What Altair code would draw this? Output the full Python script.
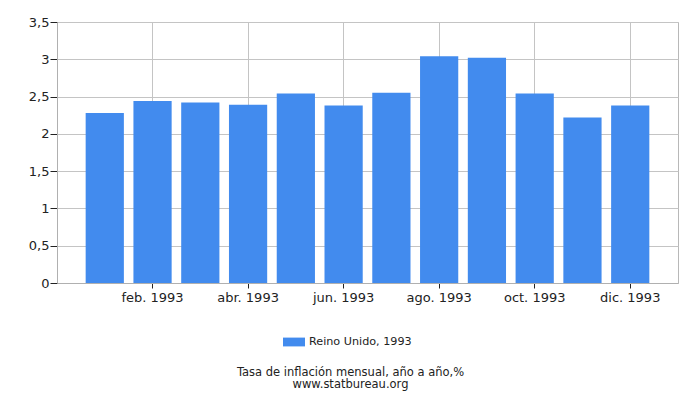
import altair as alt
import pandas as pd

months = ["ene. 1993", "feb. 1993", "mar. 1993", "abr. 1993", "may. 1993", "jun. 1993",
          "jul. 1993", "ago. 1993", "sep. 1993", "oct. 1993", "nov. 1993", "dic. 1993"]
values = [2.28, 2.44, 2.42, 2.39, 2.54, 2.38, 2.55, 3.04, 3.02, 2.54, 2.22, 2.38]
series = "Reino Unido, 1993"
x_ticks = ["feb. 1993", "abr. 1993", "jun. 1993", "ago. 1993", "oct. 1993", "dic. 1993"]
y_ticks = [0, 0.5, 1, 1.5, 2, 2.5, 3, 3.5]

df = pd.DataFrame({"month": months, "value": values, "series": [series] * len(months)})

FONT = "DejaVu Sans"

bars = alt.Chart(df).mark_bar(color="#428bee").encode(
    x=alt.X("month:N", sort=months,
            scale=alt.Scale(paddingInner=0.2, paddingOuter=0.6),
            axis=alt.Axis(values=x_ticks, title=None, labelAngle=0, grid=True,
                          gridColor="#c4c4c4", domainColor="#b0b0b0", tickColor="#222",
                          tickSize=5, labelFont=FONT, labelFontSize=13, labelColor="#222",
                          labelPadding=3)),
    y=alt.Y("value:Q", scale=alt.Scale(domain=[0, 3.5], nice=False),
            axis=alt.Axis(values=y_ticks, title=None, grid=True, gridColor="#c4c4c4",
                          domainColor="#b0b0b0", tickColor="#222", tickSize=7,
                          labelPadding=1, labelFont=FONT, labelFontSize=13, labelColor="#222",
                          labelExpr="replace(toString(datum.value), '.', ',')")),
    color=alt.Color("series:N", scale=alt.Scale(range=["#428bee"]),
                    legend=alt.Legend(title=None, orient="none", legendX=226, legendY=309,
                                      symbolType="M-1,-0.4L1,-0.4L1,0.4L-1,0.4Z",
                                      symbolSize=484, symbolStrokeWidth=0,
                                      labelFont=FONT, labelFontSize=11.2, labelColor="#222")),
)

chart = bars.properties(
    width=621, height=261,
    autosize=alt.AutoSizeParams(type="none"),
    padding={"left": 49, "top": 14, "right": 14, "bottom": 115},
    title=alt.TitleParams(text="Tasa de inflación mensual, año a año,%",
                          subtitle="www.statbureau.org", orient="bottom", anchor="middle",
                          font=FONT, fontSize=11.5, fontWeight="normal", color="#222",
                          subtitleFont=FONT, subtitleFontSize=11.5, subtitleColor="#222",
                          subtitlePadding=0, offset=19, dx=-17),
).configure_view(stroke="#b8b8b8")

chart.save("out.html", embed_options={"renderer": "svg", "actions": False})
